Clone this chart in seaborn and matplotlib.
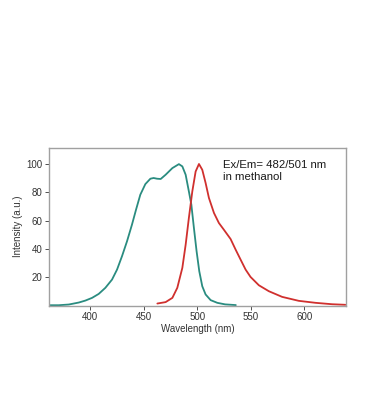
import matplotlib
matplotlib.use("Agg")
import matplotlib.pyplot as plt
import seaborn as sns
import pandas as pd

ex_wl = [361.5, 370.8, 380.2, 389.5, 395.7, 401.9, 408.1, 414.3, 420.5, 425.2,
         429.8, 434.5, 439.1, 442.9, 446.9, 451.6, 456.3, 459.3, 462.5, 465.9,
         470.5, 476.8, 482.9, 486.1, 489.2, 492.2, 494.5, 496.9, 499.4, 501.9,
         504.7, 507.8, 512.5, 518.7, 526.0, 536.0]
ex_int = [0.2, 0.2, 0.7, 2.1, 3.5, 5.4, 8.2, 12.5, 18.3, 25.4,
          34.8, 45.4, 57.1, 67.7, 78.3, 85.8, 89.6, 90.1, 89.6, 89.4,
          92.4, 97.1, 99.9, 98.3, 92.4, 80.6, 71.3, 54.8, 38.3, 24.2,
          13.6, 7.8, 3.8, 1.9, 0.8, 0.3]

em_wl = [462.8, 470.5, 476.8, 481.4, 486.1, 489.2, 492.2, 495.4, 498.5, 501.6,
         504.7, 507.8, 510.9, 515.6, 520.2, 524.8, 531.1, 535.8, 540.4, 545.1,
         549.7, 557.5, 566.8, 579.2, 594.7, 610.3, 625.8, 638.2]
em_int = [1.4, 2.4, 5.4, 12.5, 26.6, 43.0, 61.9, 80.6, 94.7, 100.0,
          95.9, 86.6, 76.0, 65.4, 58.3, 53.6, 47.0, 39.5, 32.5, 25.4,
          20.2, 14.3, 10.1, 6.1, 3.3, 1.9, 0.9, 0.5]

x_ticks = [400, 450, 500, 550, 600]
y_ticks = [20, 40, 60, 80, 100]
annotation = "Ex/Em= 482/501 nm\nin methanol"

sns.set_style("white")
plt.rcParams['font.family'] = ['Liberation Sans', 'DejaVu Sans']

df = pd.concat([
    pd.DataFrame({"wl": ex_wl, "val": ex_int, "kind": "Excitation"}),
    pd.DataFrame({"wl": em_wl, "val": em_int, "kind": "Emission"}),
])

fig = plt.figure(figsize=(3.69, 4.20), dpi=100)
ax = fig.add_axes([0.1336, 0.2726, 0.9369 - 0.1336, 0.6483 - 0.2726])
sns.lineplot(data=df, x="wl", y="val", hue="kind",
             palette={"Excitation": "#2a8c80", "Emission": "#d0302e"},
             linewidth=1.3, legend=False, ax=ax, sort=False)

ax.set_xlim(362, 638.5)
ax.set_ylim(0, 111.5)
ax.set_xticks(x_ticks)
ax.set_yticks(y_ticks)
ax.tick_params(axis="both", labelsize=7, colors="#333333", length=3,
               width=0.6, direction="out", left=True, bottom=True, pad=2)
for s in ax.spines.values():
    s.set_color("#a0a0a0")
    s.set_linewidth(1.0)
ax.set_xlabel("Wavelength (nm)", fontsize=7, color="#333333", labelpad=1)
ax.set_ylabel("Intensity (a.u.)", fontsize=7, color="#333333", labelpad=2)
ax.text(524.3, 102.5, annotation, fontsize=8.2, color="#1a1a1a",
        va="top", ha="left", linespacing=1.25)

fig.savefig("out.png", dpi=100)
